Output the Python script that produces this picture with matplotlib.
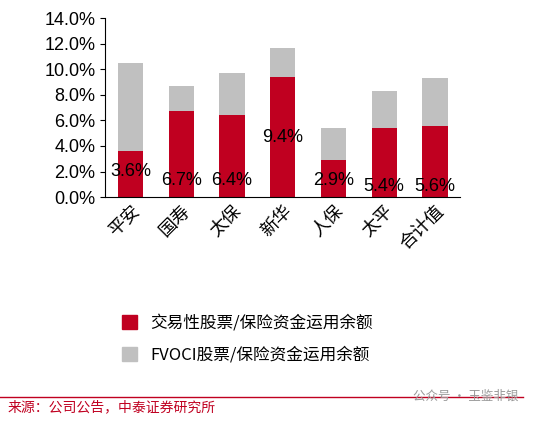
import matplotlib
matplotlib.use("Agg")
import matplotlib.pyplot as plt
from matplotlib.patches import Patch
from matplotlib.lines import Line2D

plt.rcParams['font.family'] = ['Noto Sans CJK SC', 'DejaVu Sans']

categories = ['平安', '国寿', '太保', '新华', '人保', '太平', '合计值']
trading = [3.6, 6.7, 6.4, 9.4, 2.9, 5.4, 5.6]
fvoci = [6.9, 2.0, 3.3, 2.3, 2.5, 2.9, 3.7]
label_y = [2.0, 1.3, 1.3, 4.7, 1.3, 0.8, 0.8]

red = '#C00020'
gray = '#C0C0C0'

fig = plt.figure(figsize=(5.34, 4.22), dpi=100)
ax = fig.add_axes([0.197, 0.533, 0.665, 0.424])
x = range(len(categories))
ax.bar(x, trading, width=0.5, color=red)
ax.bar(x, fvoci, width=0.5, bottom=trading, color=gray)
for i, v in enumerate(trading):
    ax.text(i, label_y[i], f'{v:.1f}%', ha='center', va='center', fontsize=13,
            family=['Liberation Sans', 'DejaVu Sans'])
ax.set_ylim(0, 14)
ax.set_yticks([i * 2 for i in range(8)])
ax.set_yticklabels([f'{i*2:.1f}%' for i in range(8)], fontsize=13,
                   family=['Liberation Sans', 'DejaVu Sans'])
ax.set_xticks(list(x))
ax.set_xticklabels(categories, rotation=45, ha='right', rotation_mode='anchor', fontsize=13)
ax.set_xlim(-0.5, len(categories) - 0.5)
for s in ['top', 'right']:
    ax.spines[s].set_visible(False)
ax.tick_params(axis='x', length=0)
ax.tick_params(axis='y', direction='out')

handles = [Patch(color=red), Patch(color=gray)]
fig.legend(handles, ['交易性股票/保险资金运用余额', 'FVOCI股票/保险资金运用余额'],
           loc='upper left', bbox_to_anchor=(0.2, 0.29), frameon=False, fontsize=12,
           handlelength=0.9, handleheight=0.9, labelspacing=0.9)

fig.add_artist(Line2D([0.0, 0.98], [0.06 + 0.0], color=red, lw=1))
fig.text(0.015, 0.035, '来源：公司公告，中泰证券研究所', color=red, fontsize=10, va='center')
fig.text(0.97, 0.06, '公众号 · 玉鉴非银', color='#999999', fontsize=9, ha='right', va='center')
fig.savefig('out.png', dpi=100)
